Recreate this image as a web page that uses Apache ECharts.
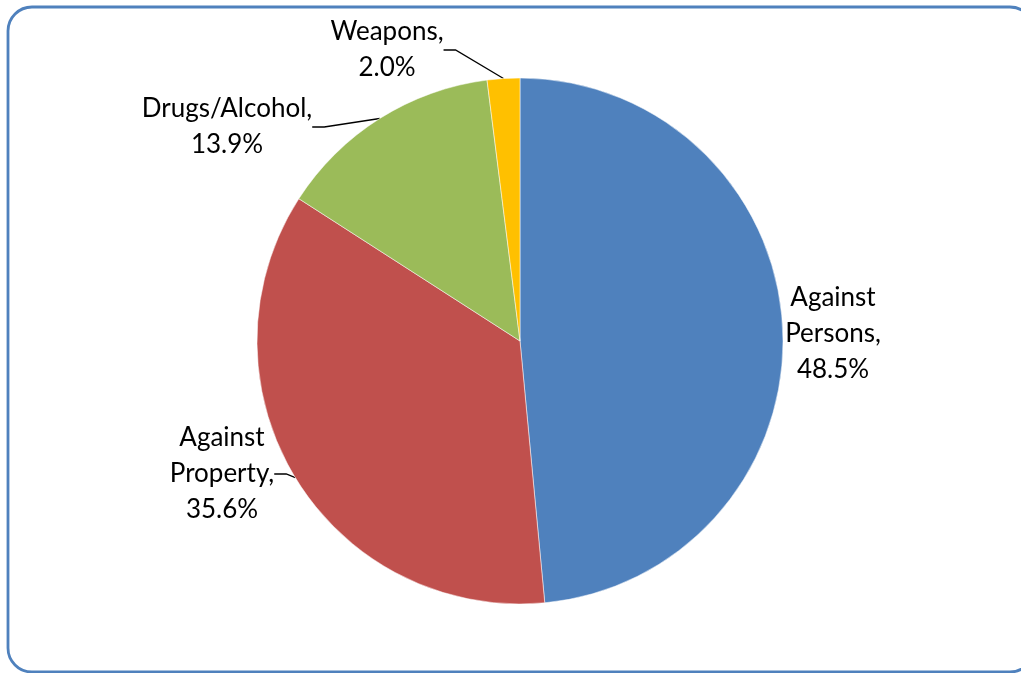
<!DOCTYPE html>
<html>
<head>
<meta charset="utf-8">
<script src="https://cdn.jsdelivr.net/npm/echarts@6/dist/echarts.min.js"></script>
<style>
  html, body { margin: 0; padding: 0; background: #fff; }
  #chart { width: 1021px; height: 673px; }
</style>
</head>
<body>
<div id="chart"></div>
<script>
// offence categories and their shares (%)
const categories = ['Against Persons', 'Against Property', 'Drugs/Alcohol', 'Weapons'];
const shares = [48.5, 35.6, 13.9, 2.0];
const colors = ['#4F81BD', '#C0504D', '#9BBB59', '#FFC000'];

// where each label sits (centre of the text block)
const labelSpots = [
  { x: 833, y: 334, line: false },
  { x: 222, y: 474, line: true },
  { x: 227, y: 127, line: true },
  { x: 387, y: 50, line: true }
];

const chart = echarts.init(document.getElementById('chart'));

chart.setOption({
  backgroundColor: '#fff',
  animation: false,
  graphic: [{
    type: 'rect',
    shape: { x: 8, y: 7, width: 1026, height: 665, r: 24 },
    style: { fill: 'none', stroke: '#4F81BD', lineWidth: 2.8 }
  }],
  series: [{
    type: 'pie',
    center: [520, 341],
    radius: 263,
    startAngle: 90,
    clockwise: true,
    avoidLabelOverlap: false,
    itemStyle: { borderColor: '#fff', borderWidth: 0.5 },
    label: {
      show: true,
      position: 'outside',
      color: '#000',
      fontFamily: 'Lato',
      fontSize: 26,
      lineHeight: 36,
      align: 'center',
      formatter: p => p.name.replace(' ', '\n') + ',\n' + p.value.toFixed(1) + '%'
    },
    labelLine: {
      show: true,
      length: 10,
      length2: 12,
      lineStyle: { color: '#000', width: 1.3 }
    },
    labelLayout: params => {
      const s = labelSpots[params.dataIndex];
      return { x: s.x, y: s.y, align: 'center', verticalAlign: 'middle' };
    },
    data: categories.map((name, i) => ({
      name: name,
      value: shares[i],
      itemStyle: { color: colors[i] },
      labelLine: { show: labelSpots[i].line }
    }))
  }]
});
</script>
</body>
</html>
